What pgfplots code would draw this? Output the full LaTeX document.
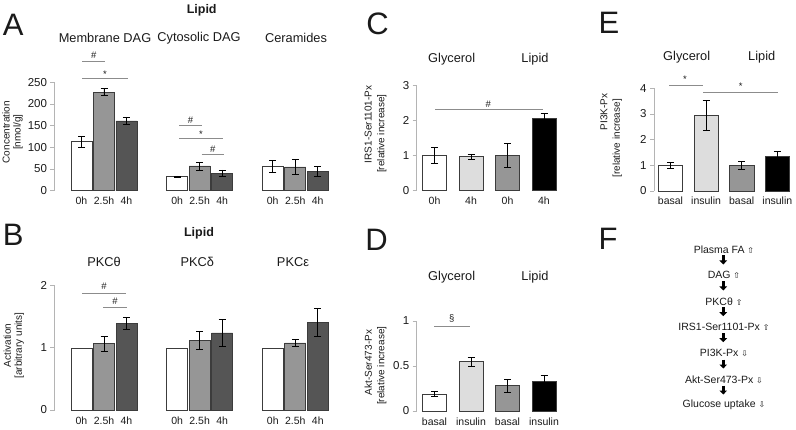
\documentclass[border=0pt]{standalone}
\usepackage{pgfplots}
\pgfplotsset{compat=1.18}
\usepackage{fontspec}
\setmainfont{Liberation Sans}
\newfontfamily\symfont{DejaVu Sans}
\usetikzlibrary{arrows.meta}
\definecolor{axgray}{HTML}{B4B4B4}
\definecolor{edge}{HTML}{3C3C3C}
\definecolor{cgray}{HTML}{969696}
\definecolor{cdark}{HTML}{555555}
\definecolor{clight}{HTML}{DDDDDD}
\definecolor{sigline}{HTML}{8C8C8C}
\definecolor{txt}{HTML}{1A1A1A}
\newcommand\ttl{\fontsize{12.8}{14}\selectfont}
\newcommand\bld{\fontsize{12.5}{14}\selectfont\bfseries}
\newcommand\lbl{\fontsize{10}{12}\selectfont}
\newcommand\sig{\fontsize{9.5}{11}\selectfont}
\newcommand\flw{\fontsize{10.5}{12}\selectfont}
\newcommand\plet{\fontsize{31}{33}\selectfont}
\pgfplotsset{
  panel/.style={
    scale only axis,
    axis lines=left,
    axis line style={-},
    y axis line style={draw=axgray, line width=0.8pt},
    x axis line style={draw=none},
    ymin=0,
    xtick style={draw=none},
    ytick style={draw=axgray, line width=0.8pt},
    tick align=outside,
    major tick length=4pt,
    /pgf/number format/assume math mode=true,
    yticklabel style={font=\fontsize{11.5}{12}\selectfont, text=txt},
    xticklabel style={font=\fontsize{10.5}{11}\selectfont, text=txt, anchor=base, yshift=-10pt},
    clip=false,
    every axis plot/.append style={ybar, bar shift=0pt, draw=edge, line width=0.7pt},
    error bars/y dir=both,
    error bars/y explicit,
    error bars/error bar style={black, line width=0.7pt},
    error bars/error mark options={rotate=90, mark size=3.5pt, black, line width=0.7pt},
  },
}
\begin{document}
\begin{tikzpicture}
\useasboundingbox (0,0) rectangle (796pt,429pt);

% ---------------- Panel A ----------------
\begin{axis}[panel, at={(54.5pt,238.3pt)}, anchor=south west,
  width=285.75pt, height=108.4pt, xmin=-1.2, xmax=11.5, ymax=250,
  ytick={0,50,100,150,200,250},
  xtick={0,1,2,4.25,5.25,6.25,8.5,9.5,10.5},
  xticklabels={0h,2.5h,4h,0h,2.5h,4h,0h,2.5h,4h},
  every axis plot/.append style={bar width=21pt}]
\addplot[fill=white] coordinates {(0,113) +- (0,12) (4.25,32) +- (0,2) (8.5,56) +- (0,14)};
\addplot[fill=cgray] coordinates {(1,227) +- (0,8) (5.25,57) +- (0,9) (9.5,55) +- (0,17)};
\addplot[fill=cdark] coordinates {(2,161) +- (0,9) (6.25,40) +- (0,8) (10.5,45) +- (0,11)};
\end{axis}

% ---------------- Panel B ----------------
\begin{axis}[panel, at={(54.5pt,19pt)}, anchor=south west,
  width=285.75pt, height=124.3pt, xmin=-1.2, xmax=11.5, ymax=2,
  ytick={0,1,2},
  xtick={0,1,2,4.25,5.25,6.25,8.5,9.5,10.5},
  xticklabels={0h,2.5h,4h,0h,2.5h,4h,0h,2.5h,4h},
  every axis plot/.append style={bar width=21pt}]
\addplot[fill=white] coordinates {(0,1) (4.25,1) (8.5,1)};
\addplot[fill=cgray] coordinates {(1,1.07) +- (0,0.12) (5.25,1.12) +- (0,0.14) (9.5,1.08) +- (0,0.06)};
\addplot[fill=cdark] coordinates {(2,1.395) +- (0,0.09) (6.25,1.24) +- (0,0.22) (10.5,1.41) +- (0,0.23)};
\end{axis}

% ---------------- Panel C ----------------
\begin{axis}[panel, at={(416.7pt,238.3pt)}, anchor=south west,
  width=145.55pt, height=105pt, xmin=-0.4877, xmax=3.5, ymax=3,
  ytick={0,1,2,3},
  xtick={0,1,2,3}, xticklabels={0h,4h,0h,4h},
  every axis plot/.append style={bar width=24pt}]
\addplot[fill=white] coordinates {(0,1.01) +- (0,0.22)};
\addplot[fill=clight] coordinates {(1,0.97) +- (0,0.08)};
\addplot[fill=cgray] coordinates {(2,1.01) +- (0,0.35)};
\addplot[fill=black] coordinates {(3,2.07) +- (0,0.15)};
\end{axis}

% ---------------- Panel D ----------------
\begin{axis}[panel, at={(416.7pt,18pt)}, anchor=south west,
  width=145.55pt, height=90pt, xmin=-0.4877, xmax=3.5, ymax=1,
  ytick={0,0.5,1},
  xtick={0,1,2,3}, xticklabels={basal,insulin,basal,insulin},
  every axis plot/.append style={bar width=24pt}]
\addplot[fill=white] coordinates {(0,0.19) +- (0,0.025)};
\addplot[fill=clight] coordinates {(1,0.548) +- (0,0.05)};
\addplot[fill=cgray] coordinates {(2,0.28) +- (0,0.075)};
\addplot[fill=black] coordinates {(3,0.326) +- (0,0.075)};
\end{axis}

% ---------------- Panel E ----------------
\begin{axis}[panel, at={(654pt,238pt)}, anchor=south west,
  width=141.1pt, height=102.7pt, xmin=-0.4635, xmax=3.5, ymax=4,
  ytick={0,1,2,3,4},
  xtick={0,1,2,3}, xticklabels={basal,insulin,basal,insulin},
  every axis plot/.append style={bar width=24.5pt}]
\addplot[fill=white] coordinates {(0,1.0) +- (0,0.12)};
\addplot[fill=clight] coordinates {(1,2.94) +- (0,0.59)};
\addplot[fill=cgray] coordinates {(2,1.0) +- (0,0.16)};
\addplot[fill=black] coordinates {(3,1.336) +- (0,0.21)};
\end{axis}

% ---------------- texts ----------------
\begin{scope}[every node/.style={text=txt, inner sep=0pt}]
% panel letters
\node[font=\plet] at (13.3pt,404pt) {A};
\node[font=\plet] at (13.3pt,194pt) {B};
\node[font=\plet] at (377.5pt,405pt) {C};
\node[font=\plet] at (376.5pt,189pt) {D};
\node[font=\plet] at (609pt,406pt) {E};
\node[font=\plet] at (608pt,190pt) {F};
% A
\node[font=\bld] at (201.7pt,419pt) {Lipid};
\node[font=\ttl] at (105pt,391pt) {Membrane DAG};
\node[font=\ttl] at (199pt,391pt) {Cytosolic DAG};
\node[font=\ttl] at (296pt,391pt) {Ceramides};
\node[font=\lbl, rotate=90] at (6pt,296.8pt) {Concentration};
\node[font=\lbl, rotate=90] at (18pt,296.8pt) {[nmol/g]};
% B
\node[font=\bld] at (199pt,196pt) {Lipid};
\node[font=\ttl] at (104pt,167.3pt) {PKCθ};
\node[font=\ttl] at (197.3pt,167.3pt) {PKCδ};
\node[font=\ttl] at (293pt,167.3pt) {PKCε};
\node[font=\lbl, rotate=90] at (7.3pt,83.5pt) {Activation};
\node[font=\lbl, rotate=90] at (19.3pt,83.5pt) {[arbitrary units]};
% C
\node[font=\ttl] at (451.7pt,369.7pt) {Glycerol};
\node[font=\ttl] at (535pt,369.7pt) {Lipid};
\node[font=\lbl, rotate=90] at (368.3pt,304.7pt) {IRS1-Ser1101-Px};
\node[font=\lbl, rotate=90] at (381.7pt,295.3pt) {[relative increase]};
% D
\node[font=\ttl] at (451.7pt,151.7pt) {Glycerol};
\node[font=\ttl] at (535pt,151.7pt) {Lipid};
\node[font=\lbl, rotate=90] at (368.3pt,66.5pt) {Akt-Ser473-Px};
\node[font=\lbl, rotate=90] at (381.7pt,63.2pt) {[relative increase]};
% E
\node[font=\ttl] at (686.7pt,371.7pt) {Glycerol};
\node[font=\ttl] at (761.7pt,371.7pt) {Lipid};
\node[font=\lbl, rotate=90] at (604pt,317.3pt) {PI3K-Px};
\node[font=\lbl, rotate=90] at (617.3pt,290.7pt) {[relative increase]};
% significance
\begin{scope}[sigline, line width=0.8pt]
\draw (82.3pt,368pt) -- (105pt,368pt);
\draw (82.3pt,350.3pt) -- (127.7pt,350.3pt);
\draw (179.3pt,303.7pt) -- (201.7pt,303.7pt);
\draw (179.3pt,290.3pt) -- (222.7pt,290.3pt);
\draw (201.7pt,274.7pt) -- (224pt,274.7pt);
\draw (82.3pt,135.7pt) -- (125.7pt,135.7pt);
\draw (103.3pt,121.7pt) -- (126.7pt,121.7pt);
\draw (435.3pt,320pt) -- (543.3pt,320pt);
\draw (434pt,102.3pt) -- (470pt,102.3pt);
\draw (669pt,343.3pt) -- (703.3pt,343.3pt);
\draw (703.3pt,336.3pt) -- (778.3pt,336.3pt);
\end{scope}
\node[font=\sig] at (93.7pt,374pt) {\#};
\node[font=\sig] at (105pt,355pt) {*};
\node[font=\sig] at (190.5pt,309pt) {\#};
\node[font=\sig] at (201pt,295pt) {*};
\node[font=\sig] at (212.8pt,280pt) {\#};
\node[font=\sig] at (104pt,143pt) {\#};
\node[font=\sig] at (115pt,127.3pt) {\#};
\node[font=\sig] at (488.3pt,325pt) {\#};
\node[font=\sig] at (451.7pt,110.7pt) {§};
\node[font=\sig] at (685pt,349.7pt) {*};
\node[font=\sig] at (740.7pt,342.3pt) {*};
% F flow
\node[font=\flw] at (724pt,179.7pt) {Plasma FA {\symfont\fontsize{8}{8}\selectfont ⇧}};
\node[font=\flw] at (724pt,154pt) {DAG {\symfont\fontsize{8}{8}\selectfont ⇧}};
\node[font=\flw] at (724pt,127.3pt) {PKCθ {\symfont\fontsize{8}{8}\selectfont ⇧}};
\node[font=\flw] at (724pt,101.7pt) {IRS1-Ser1101-Px {\symfont\fontsize{8}{8}\selectfont ⇧}};
\node[font=\flw] at (724pt,75.7pt) {PI3K-Px {\symfont\fontsize{8}{8}\selectfont ⇩}};
\node[font=\flw] at (724pt,49.7pt) {Akt-Ser473-Px {\symfont\fontsize{8}{8}\selectfont ⇩}};
\node[font=\flw] at (724pt,24pt) {Glucose uptake {\symfont\fontsize{8}{8}\selectfont ⇩}};
\end{scope}
\begin{scope}[black, line width=2.4pt]
\foreach \yy in {169,143,117.3,91.3,65,39}
  \draw[-{Triangle[width=7.5pt,length=4pt]}] (723.3pt,\yy pt+4.5pt) -- (723.3pt,\yy pt-4.5pt);
\end{scope}
\end{tikzpicture}
\end{document}
